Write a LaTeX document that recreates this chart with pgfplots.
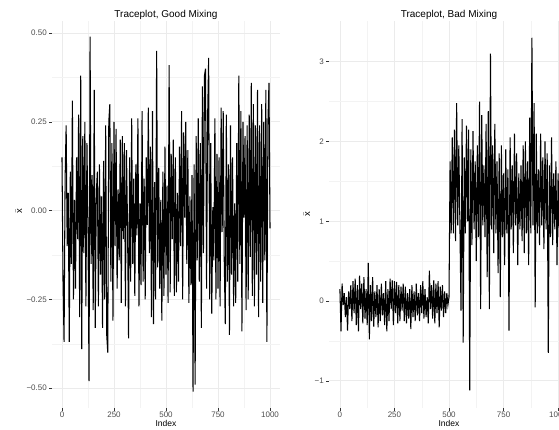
\documentclass[border=0pt]{standalone}
\usepackage{fontspec}
\setmainfont{Liberation Sans}
\usepackage{pgfplots}
\pgfplotsset{compat=1.18}
\definecolor{gridmaj}{HTML}{EBEBEB}
\definecolor{gridmin}{HTML}{F3F3F3}
\definecolor{ticklab}{HTML}{4D4D4D}
\definecolor{tickcol}{HTML}{333333}
\pgfplotsset{
  trace/.style={
    scale only axis,
    width=228pt, height=387pt,
    anchor=south west,
    axis line style={draw=none},
    tick pos=left,
    tick align=outside,
    major tick length=2.8pt,
    minor tick length=0pt,
    tick style={tickcol, line width=0.5pt},
    grid=both,
    major grid style={gridmaj, line width=0.8pt},
    minor grid style={gridmin, line width=0.45pt},
    xtick={0,250,500,750,1000},
    minor xtick={125,375,625,875},
    xticklabels={0,250,500,750,1000},
    ticklabel style={font=\fontsize{8}{9}\selectfont, text=ticklab},
    xticklabel style={inner sep=1pt},
    yticklabel style={inner sep=2.2pt},
    /pgf/number format/assume math mode=true,
    clip=true,
  }
}
\begin{document}
\begin{tikzpicture}
\begin{scope}
\clip (0pt,0pt) rectangle (559pt,429pt);
% ---------- left panel ----------
\begin{axis}[trace,
  at={(52pt,21pt)},
  xmin=-48, xmax=1048,
  ymin=-0.556, ymax=0.534,
  ytick={-0.5,-0.25,0,0.25,0.5},
  minor ytick={-0.375,-0.125,0.125,0.375},
  yticklabels={−0.50,−0.25,0.00,0.25,0.50},
]
\addplot[black, line width=1.05pt, mark=none] coordinates {
(0,0.15)(5,-0.20)(10,-0.37)(15,0.09)(20,0.24)(25,-0.10)(30,0.05)(35,-0.37)(40,0.11)(45,-0.15)
(50,0.31)(55,-0.25)(60,0.03)(65,-0.22)(70,0.15)(75,-0.08)(80,0.27)(85,-0.30)(90,0.38)(95,-0.39)
(100,0.21)(105,-0.12)(110,0.25)(115,-0.27)(120,0.19)(125,-0.05)(130,-0.48)(135,0.49)(140,-0.15)(145,0.10)
(150,-0.28)(155,0.34)(160,-0.33)(165,0.05)(170,0.11)(175,-0.27)(180,0.13)(185,-0.18)(190,0.04)(195,-0.33)
(200,0.14)(205,-0.25)(210,0.24)(215,-0.35)(220,-0.40)(225,0.25)(230,0.30)(235,-0.20)(240,0.19)(245,-0.31)
(250,0.25)(255,-0.10)(260,0.23)(265,-0.22)(270,0.06)(275,-0.14)(280,0.20)(285,-0.26)(290,0.21)(295,-0.08)
(300,0.19)(305,-0.27)(310,0.17)(315,-0.04)(320,-0.36)(325,0.15)(330,-0.20)(335,0.26)(340,-0.15)(345,0.09)
(350,-0.24)(355,0.13)(360,-0.07)(365,0.26)(370,-0.27)(375,0.02)(380,-0.21)(385,0.28)(390,-0.20)(395,0.09)
(400,-0.25)(405,0.15)(410,-0.04)(415,0.29)(420,-0.12)(425,0.18)(430,-0.30)(435,0.28)(440,-0.32)(445,0.08)
(450,-0.25)(455,0.45)(460,-0.16)(465,0.12)(470,-0.22)(475,0.03)(480,-0.31)(485,0.11)(490,-0.24)(495,0.18)
(500,-0.18)(505,0.07)(510,-0.26)(515,0.41)(520,-0.23)(525,0.16)(530,-0.08)(535,0.20)(540,-0.24)(545,0.15)
(550,-0.23)(555,0.05)(560,-0.20)(565,0.18)(570,-0.10)(575,0.28)(580,-0.25)(585,0.22)(590,-0.02)(595,0.25)
(600,-0.15)(605,0.17)(610,-0.26)(615,0.04)(620,-0.21)(625,0.10)(630,-0.51)(635,0.13)(640,-0.49)(645,0.21)
(650,-0.14)(655,0.26)(660,-0.20)(665,0.19)(670,-0.33)(675,0.35)(680,-0.12)(685,0.38)(690,0.40)(695,-0.22)
(700,0.26)(705,0.43)(710,-0.25)(715,0.19)(720,-0.29)(725,0.01)(730,-0.14)(735,0.26)(740,-0.25)(745,0.16)
(750,-0.22)(755,0.15)(760,-0.27)(765,0.29)(770,-0.06)(775,0.28)(780,-0.14)(785,-0.32)(790,0.27)(795,-0.20)
(800,0.13)(805,-0.35)(810,0.24)(815,-0.18)(820,0.15)(825,-0.27)(830,0.02)(835,-0.26)(840,0.19)(845,-0.20)
(850,0.38)(855,-0.15)(860,0.28)(865,-0.34)(870,0.25)(875,-0.02)(880,0.21)(885,-0.28)(890,0.24)(895,-0.25)
(900,0.27)(905,-0.13)(910,0.36)(915,-0.24)(920,0.30)(925,-0.27)(930,0.24)(935,-0.18)(940,0.34)(945,-0.30)
(950,0.24)(955,-0.20)(960,0.30)(965,-0.26)(970,0.25)(975,-0.14)(980,0.34)(985,-0.37)(990,0.25)(995,0.36)
(1000,-0.05)
};
\end{axis}
% ---------- right panel ----------
\begin{axis}[trace,
  at={(329pt,21pt)},
  width=240pt,
  xmin=-50, xmax=1050,
  ymin=-1.34, ymax=3.51,
  ytick={-1,0,1,2,3},
  minor ytick={-0.5,0.5,1.5,2.5},
  yticklabels={−1,0,1,2,3},
]
\addplot[black, line width=1.05pt, mark=none] coordinates {
(0,0.15)(5,-0.38)(10,0.22)(15,-0.05)(20,0.10)(25,-0.20)(30,0.05)(35,-0.37)(40,0.12)(45,-0.10)
(50,0.20)(55,-0.25)(60,0.25)(65,-0.15)(70,0.28)(75,-0.30)(80,0.20)(85,-0.38)(90,0.32)(95,-0.10)
(100,0.22)(105,-0.28)(110,0.30)(115,-0.22)(120,0.15)(125,-0.30)(130,0.48)(135,-0.48)(140,0.20)(145,-0.25)
(150,0.30)(155,-0.32)(160,0.12)(165,-0.20)(170,0.20)(175,-0.33)(180,0.15)(185,-0.25)(190,0.22)(195,-0.18)
(200,0.10)(205,-0.30)(210,0.25)(215,-0.38)(220,0.15)(225,-0.25)(230,0.28)(235,-0.10)(240,0.26)(245,-0.30)
(250,0.25)(255,-0.15)(260,0.24)(265,-0.28)(270,0.20)(275,-0.25)(280,0.18)(285,-0.12)(290,0.22)(295,-0.25)
(300,0.18)(305,-0.28)(310,0.10)(315,-0.22)(320,0.15)(325,-0.35)(330,0.20)(335,-0.20)(340,0.12)(345,-0.25)
(350,0.22)(355,-0.18)(360,0.10)(365,-0.25)(370,0.20)(375,-0.15)(380,0.25)(385,-0.22)(390,0.15)(395,-0.20)
(400,0.05)(405,-0.28)(410,0.38)(415,-0.10)(420,0.20)(425,-0.22)(430,0.26)(435,-0.28)(440,0.22)(445,-0.15)
(450,0.25)(455,-0.33)(460,0.18)(465,-0.12)(470,0.20)(475,-0.20)(480,0.12)(485,-0.15)(490,0.10)(495,-0.05)
(500,0.05)(505,1.75)(510,0.85)(515,2.05)(520,0.85)(525,2.15)(530,0.75)(535,2.48)(540,0.95)(545,1.95)
(550,0.95)(555,-0.12)(560,2.28)(565,-0.52)(570,1.80)(575,0.85)(580,2.20)(585,1.00)(590,2.15)(595,-1.12)
(600,1.90)(605,0.70)(610,2.13)(615,0.90)(620,1.75)(625,0.50)(630,1.95)(635,0.80)(640,2.50)(645,-0.10)
(650,2.33)(655,0.95)(660,1.70)(665,0.80)(670,2.22)(675,0.30)(680,2.38)(685,-0.10)(690,3.10)(695,0.90)
(700,1.95)(705,0.60)(710,2.22)(715,0.85)(720,1.75)(725,0.35)(730,1.85)(735,0.05)(740,1.95)(745,0.80)
(750,1.60)(755,0.45)(760,1.90)(765,0.85)(770,1.65)(775,-0.37)(780,2.05)(785,0.90)(790,1.70)(795,0.60)
(800,2.10)(805,0.95)(810,1.85)(815,0.45)(820,1.60)(825,0.90)(830,1.70)(835,0.75)(840,1.95)(845,0.60)
(850,2.00)(855,0.85)(860,1.75)(865,0.45)(870,2.30)(875,0.85)(880,3.30)(885,0.95)(890,2.48)(895,-0.08)
(900,2.10)(905,0.85)(910,1.65)(915,0.70)(920,2.10)(925,0.95)(930,1.80)(935,0.65)(940,2.00)(945,0.90)
(950,1.85)(955,-0.65)(960,1.70)(965,0.80)(970,2.05)(975,0.70)(980,1.60)(985,0.90)(990,1.75)(995,0.45)
(1000,1.60)(1005,0.80)
};
\end{axis}
% ---------- texts ----------
\node[font=\fontsize{10}{12}\selectfont] at (166pt,414pt) {Traceplot, Good Mixing};
\node[font=\fontsize{10}{12}\selectfont] at (449pt,414pt) {Traceplot, Bad Mixing};
\node[font=\fontsize{8.5}{10}\selectfont] at (166pt,6pt) {Index};
\node[font=\fontsize{8.5}{10}\selectfont] at (449pt,6pt) {Index};
\node[font=\fontsize{9.5}{10}\selectfont, rotate=90] at (19pt,218pt) {$\bar{\mbox{x}}$};
\node[font=\fontsize{9.5}{10}\selectfont, rotate=90] at (307pt,215pt) {$\bar{\mbox{x}}$};
\end{scope}
\pgfresetboundingbox
\useasboundingbox (0pt,0pt) rectangle (559pt,429pt);
\end{tikzpicture}
\end{document}
